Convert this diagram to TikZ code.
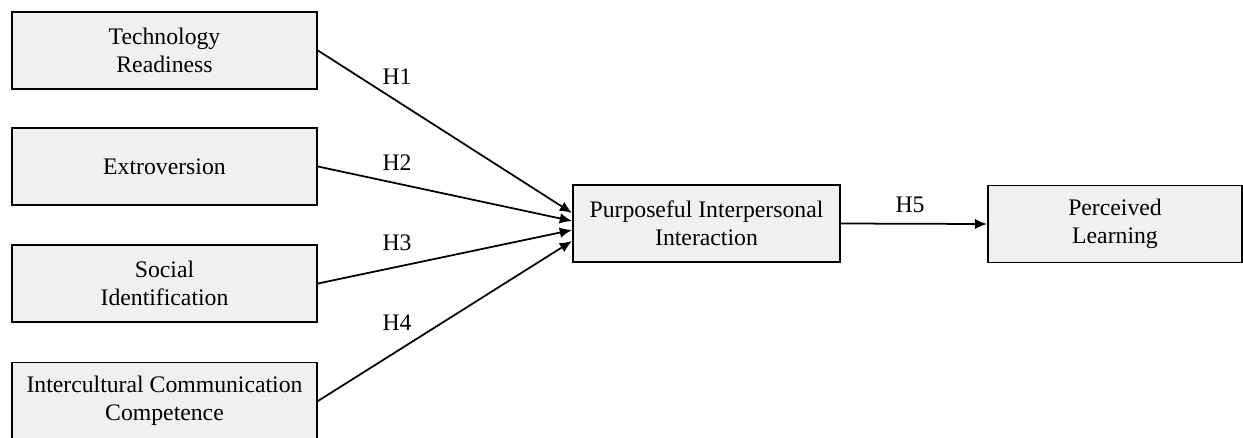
\documentclass[tikz,border=0pt]{standalone}
\usepackage{fontspec}
\setmainfont{Liberation Serif}
\usetikzlibrary{positioning,calc}
\usetikzlibrary{arrows.meta}
\definecolor{boxgray}{HTML}{F0F0F0}

\begin{document}
\begin{tikzpicture}[x=0.02cm, y=-0.02cm, >={Latex[length=7pt,width=6pt]}, construct/.style={draw, rectangle, line width=1.1pt, fill=boxgray, minimum width=#1, minimum height=1.54cm, align=center, font=\fontsize{13.5}{16}\selectfont}, hyp/.style={font=\fontsize{13.5}{16}\selectfont}]
				\useasboundingbox (0,0) rectangle (1243,437);
				\clip (0,0) rectangle (1243,437);
				% Nodes

				\node [construct=6.1cm] (c1) at (164.5,50.5) {Technology\\Readiness};
				\node [construct=6.1cm] (c2) at (164.5,166.5) {Extroversion};
				\node [construct=6.1cm] (c3) at (164.5,283.5) {Social\\Identification};
				\node [construct=6.1cm] (c4) at (164.5,401) {Intercultural Communication\\Competence};
				\node [construct=5.34cm] (inter) at (706.5,223.5) {Purposeful Interpersonal\\Interaction};
				\node [construct=5.08cm] (learn) at (1115,224) {Perceived\\Learning};
				\node [hyp] (h1) at (397,77) {H1};
				\node [hyp] (h2) at (397,163) {H2};
				\node [hyp] (h3) at (397,243) {H3};
				\node [hyp] (h4) at (397,323) {H4};
				\node [hyp] (h5) at (910,205) {H5};

				% Arrows

				\draw[->, line width=1pt] (c1.east) -- ($ (inter.west) +(0,-10.5) $);
				\draw[->, line width=1pt] (c2.east) -- ($ (inter.west) +(0,-2.5) $);
				\draw[->, line width=1pt] (c3.east) -- ($ (inter.west) +(0,6.5) $);
				\draw[->, line width=1pt] (c4.east) -- ($ (inter.west) +(0,17.5) $);
				\draw[->, line width=1pt] (inter.east) -- (learn.west);
			\end{tikzpicture}
\end{document}
